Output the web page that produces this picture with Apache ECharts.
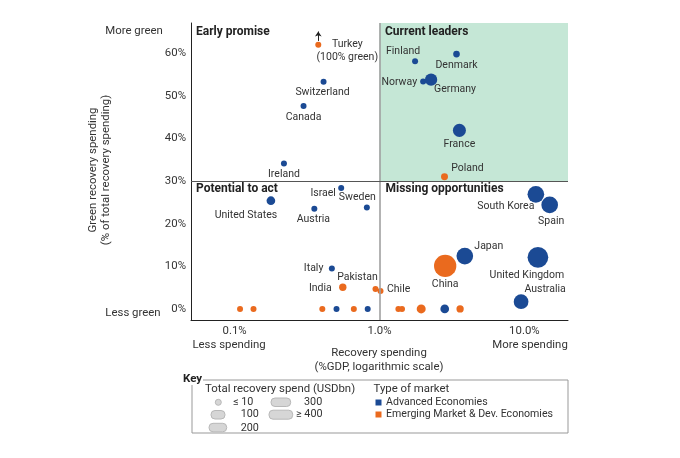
<!DOCTYPE html>
<html>
<head>
<meta charset="utf-8">
<script src="https://cdn.jsdelivr.net/npm/echarts@6/dist/echarts.min.js"></script>
<style>
html,body{margin:0;padding:0;background:#fff;}
#chart{width:680px;height:458px;}
</style>
</head>
<body>
<div id="chart"></div>
<script>
// ---------- DATA ----------
// Advanced Economies
const aeNames = ['Switzerland','Canada','Ireland','Finland','Denmark','Norway','Germany','France','United States','Israel','Sweden','Austria','Italy','South Korea','Spain','Japan','United Kingdom','Australia','','',''];
const aeSpendGDP = [0.411,0.299,0.219,1.76,3.40,2.0,2.27,3.56,0.178,0.544,0.818,0.355,0.469,12.0,14.95,3.88,12.4,9.49,0.505,0.829,2.82];
const aeGreenShare = [53.3,47.6,34.1,58.1,59.8,53.4,53.8,41.9,25.4,28.4,23.8,23.5,9.5,26.9,24.4,12.4,12.1,1.7,0,0,0];
const aeTotalBn = [10,10,10,10,37,10,125,140,62,10,10,10,10,230,230,230,354,179,10,10,62];

// Emerging Market & Developing Economies (Turkey is 100% green, drawn at top of axis)
const emNames = ['Turkey','Poland','India','Pakistan','Chile','China','','','','','','','',''];
const emSpendGDP = [0.378,2.81,0.558,0.938,1.016,2.84,0.109,0.135,0.403,0.665,1.35,1.43,1.94,3.60];
const emGreenShare = [62,31.0,5.1,4.7,4.2,10.1,0,0,0,0,0,0,0,0];
const emTotalBn = [10,40,45,10,10,411,10,10,10,10,10,10,67,44];

const xTicks = [0.1, 1, 10];
const yTicks = [0, 10, 20, 30, 40, 50, 60];
const keySpendLabels = ['≤ 10','100','200','300','≥ 400'];
const marketLabels = ['Advanced Economies','Emerging Market & Dev. Economies'];
const quadrantNames = ['Early promise','Current leaders','Potential to act','Missing opportunities'];
const X_SPLIT = 1, Y_SPLIT = 30;

// ---------- LAYOUT / STYLE ----------
const BLUE = '#1b4a94', ORANGE = '#ea6a1e', GREEN = '#c5e7d6';
const FONT = 'Roboto';
const X_MIN = 0.05, X_MAX = 20, Y_MIN = -2.6, Y_MAX = 67.1;
const labelText = { 'Turkey': 'Turkey\n(100% green)' };
const labelLayout = {
  'Turkey': [29, 6.5, 'center'],
  'Switzerland': [-1, 10.5, 'center'],
  'Canada': [0, 11, 'center'],
  'Ireland': [0, 11, 'center'],
  'Finland': [-12, -10, 'center'],
  'Denmark': [0, 11.5, 'center'],
  'Norway': [-6, 1, 'right'],
  'Germany': [24, 10, 'center'],
  'France': [0, 14, 'center'],
  'Poland': [23, -8, 'center'],
  'United States': [-25, 15, 'center'],
  'Israel': [-18, 5.5, 'center'],
  'Sweden': [-9.5, -10.5, 'center'],
  'Austria': [-1, 10.5, 'center'],
  'Italy': [-8.5, 0, 'right'],
  'India': [-11, 1, 'right'],
  'Pakistan': [-18, -11.5, 'center'],
  'Chile': [6.5, -1.5, 'left'],
  'South Korea': [-30, 12, 'center'],
  'Spain': [1.5, 16, 'center'],
  'Japan': [24, -9.5, 'center'],
  'United Kingdom': [-11, 18, 'center'],
  'Australia': [24, -12.5, 'center'],
  'China': [0, 18.5, 'center']
};
function sizeOf(bn){ return Math.max(6, 1.1 * Math.sqrt(bn)); }

function buildData(names, xs, ys, bns){
  return names.map((n, i) => {
    const item = { name: n, value: [xs[i], ys[i]], symbolSize: sizeOf(bns[i]) };
    const lay = labelLayout[n];
    if (n && lay) {
      item.label = {
        show: true, position: 'inside', offset: [lay[0], lay[1]], align: lay[2], verticalAlign: 'middle',
        formatter: labelText[n] || n, color: '#333', fontSize: 10.5, fontFamily: FONT, lineHeight: 13
      };
    }
    return item;
  });
}

const chart = echarts.init(document.getElementById('chart'), null, { renderer: 'canvas' });

function txt(text, x, y, opts){
  opts = opts || {};
  return {
    type: 'text', x: x, y: y, rotation: opts.rotation || 0, z: 100,
    style: {
      text: text, fill: opts.color || '#333',
      font: (opts.weight || 'normal') + ' ' + (opts.size || 11.4) + 'px ' + FONT,
      align: opts.align || 'center', textAlign: opts.align || 'center',
      verticalAlign: 'middle', textVerticalAlign: 'middle', lineHeight: opts.lineHeight || 14
    }
  };
}

const keyShapes = [
  { type: 'circle', shape: { cx: 218.3, cy: 402.3, r: 3 } },
  { type: 'rect', shape: { x: 211, y: 410.5, width: 14, height: 8.5, r: 4 } },
  { type: 'rect', shape: { x: 209, y: 423.3, width: 17.7, height: 8.5, r: 4 } },
  { type: 'rect', shape: { x: 271, y: 398, width: 19.7, height: 8.5, r: 4 } },
  { type: 'rect', shape: { x: 269, y: 410.2, width: 23.7, height: 9, r: 4 } }
].map(s => Object.assign(s, { z: 100, style: { fill: '#d6d6d6', stroke: '#b8b8b8', lineWidth: 1 } }));

const keyTextPos = [[233, 402.5], [240.7, 414.5], [240.7, 428], [304, 402.5], [296, 414.5]];

const graphics = [
  txt('More green', 134, 31),
  txt('Less green', 133, 313),
  txt('Green recovery spending\n(% of total recovery spending)', 100, 170, { rotation: Math.PI / 2, lineHeight: 13 }),
  txt('Less spending', 229, 345),
  txt('More spending', 530, 345),
  txt('Recovery spending', 379, 353),
  txt('(%GDP, logarithmic scale)', 379, 367),
  txt(quadrantNames[0], 196, 31.5, { align: 'left', weight: 'bold', size: 12, color: '#222' }),
  txt(quadrantNames[1], 385, 31.5, { align: 'left', weight: 'bold', size: 12, color: '#222' }),
  txt(quadrantNames[2], 196, 189, { align: 'left', weight: 'bold', size: 12, color: '#222' }),
  txt(quadrantNames[3], 385.5, 189, { align: 'left', weight: 'bold', size: 12, color: '#222' }),
  // Key box
  { type: 'rect', z: 99, shape: { x: 192, y: 380, width: 376, height: 53 }, style: { fill: 'none', stroke: '#999', lineWidth: 1 } },
  { type: 'rect', z: 99, shape: { x: 178, y: 372, width: 25, height: 13 }, style: { fill: '#fff' } },
  txt('Key', 183, 379.5, { align: 'left', weight: 'bold', size: 11.5, color: '#222' }),
  txt('Total recovery spend (USDbn)', 205, 389.5, { align: 'left', size: 11.4 }),
  txt('Type of market', 373.5, 389.5, { align: 'left', size: 11.4 }),
  { type: 'rect', z: 100, shape: { x: 375.5, y: 399.5, width: 6, height: 6 }, style: { fill: BLUE } },
  { type: 'rect', z: 100, shape: { x: 375.5, y: 411.5, width: 6, height: 6 }, style: { fill: ORANGE } },
  txt(marketLabels[0], 386, 402.5, { align: 'left', size: 10.6 }),
  txt(marketLabels[1], 386, 414.5, { align: 'left', size: 10.6 })
].concat(keyShapes).concat(keySpendLabels.map((t, i) => txt(t, keyTextPos[i][0], keyTextPos[i][1], { align: 'left', size: 10.8 })));

const option = {
  animation: false,
  backgroundColor: '#fff',
  textStyle: { fontFamily: FONT },
  grid: { left: 191, top: 23, width: 377, height: 297, containLabel: false },
  xAxis: {
    type: 'log', logBase: 10, min: X_MIN, max: X_MAX,
    axisLine: { show: true, onZero: false, lineStyle: { color: '#222', width: 1 } },
    axisTick: { show: false },
    splitLine: { show: false },
    axisLabel: {
      customValues: xTicks, color: '#333', fontSize: 11.4, margin: 6, fontFamily: FONT,
      formatter: v => {
        const l = Math.log10(v);
        if (Math.abs(l - Math.round(l)) > 1e-6) return '';
        return Number(v).toFixed(1) + '%';
      }
    }
  },
  yAxis: {
    type: 'value', min: Y_MIN, max: Y_MAX,
    axisLine: { show: true, onZero: false, lineStyle: { color: '#222', width: 1 } },
    axisTick: { show: false },
    splitLine: { show: false },
    axisLabel: { customValues: yTicks, formatter: '{value}%', color: '#333', fontSize: 11.4, margin: 5, fontFamily: FONT }
  },
  graphic: graphics,
  series: [
    {
      name: marketLabels[0], type: 'scatter', z: 3,
      itemStyle: { color: BLUE, opacity: 1 },
      data: buildData(aeNames, aeSpendGDP, aeGreenShare, aeTotalBn),
      markArea: {
        silent: true, itemStyle: { color: GREEN },
        data: [[{ xAxis: X_SPLIT, yAxis: Y_SPLIT }, { xAxis: X_MAX, yAxis: Y_MAX }]]
      },
      markLine: {
        silent: true, symbol: ['none', 'none'], label: { show: false }, animation: false,
        data: [
          { xAxis: X_SPLIT, lineStyle: { color: '#a0a0a0', width: 1.6, type: 'solid' } },
          { yAxis: Y_SPLIT, lineStyle: { color: '#555', width: 1, type: 'solid' } }
        ]
      }
    },
    {
      name: marketLabels[1], type: 'scatter', z: 3,
      itemStyle: { color: ORANGE, opacity: 1 },
      data: buildData(emNames, emSpendGDP, emGreenShare, emTotalBn),
      markLine: {
        silent: true, symbol: ['none', 'arrow'], symbolSize: 5, label: { show: false }, animation: false,
        lineStyle: { color: '#222', width: 1, type: 'solid' },
        data: [[{ coord: [emSpendGDP[0], emGreenShare[0] + 0.9] }, { coord: [emSpendGDP[0], emGreenShare[0] + 3.1] }]]
      }
    }
  ]
};
chart.setOption(option);
</script>
</body>
</html>
